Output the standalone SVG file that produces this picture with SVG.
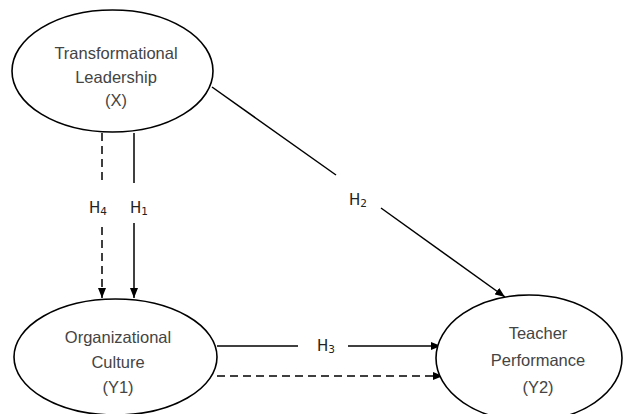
<svg xmlns="http://www.w3.org/2000/svg" width="625" height="414" viewBox="0 0 625 414">
<style>
.node ellipse{fill:#fff;stroke:#000;stroke-width:1.6}
.node text{font-family:"Liberation Sans",Arial,sans-serif;font-size:16.5px;fill:#444;text-anchor:middle}
.edge{stroke:#000;stroke-width:1.5;fill:none}
.dash{stroke-dasharray:8 5}
.lbl{font-family:"DejaVu Sans",sans-serif;font-size:15px;fill:#222;text-anchor:middle}
.lbl tspan.s{font-size:10.5px}
</style>
<defs>
<marker id="ah" viewBox="0 0 10 8" refX="10" refY="4" markerWidth="10" markerHeight="8" markerUnits="userSpaceOnUse" orient="auto">
<path d="M0,0 L10,4 L0,8 Z" fill="#000"/>
</marker>
</defs>
<rect width="625" height="414" fill="#fff"/>
<g id="connectors">
<line class="edge dash" x1="102" y1="133" x2="102" y2="182"/>
<line class="edge dash" x1="102" y1="227" x2="102" y2="298" marker-end="url(#ah)"/>
<line class="edge" x1="134" y1="133" x2="134" y2="183"/>
<line class="edge" x1="134" y1="223" x2="134" y2="298" marker-end="url(#ah)"/>
<line class="edge" x1="212" y1="87" x2="336" y2="175"/>
<line class="edge" x1="381" y1="208" x2="505" y2="297" marker-end="url(#ah)"/>
<line class="edge" x1="217" y1="346" x2="298" y2="346"/>
<line class="edge" x1="348" y1="346" x2="441" y2="346" marker-end="url(#ah)"/>
<line class="edge dash" x1="217" y1="376" x2="443" y2="376" marker-end="url(#ah)"/>
<text class="lbl" x="98" y="213">H<tspan class="s" dy="2">4</tspan></text>
<text class="lbl" x="139" y="213">H<tspan class="s" dy="2">1</tspan></text>
<text class="lbl" x="358" y="205">H<tspan class="s" dy="2">2</tspan></text>
<text class="lbl" x="326" y="351">H<tspan class="s" dy="2">3</tspan></text>
</g>
<g id="node-x" class="node">
<ellipse cx="112.5" cy="71" rx="100.5" ry="61"/>
<text x="116" y="59">Transformational</text>
<text x="116" y="83">Leadership</text>
<text x="116" y="106">(X)</text>
</g>
<g id="node-y1" class="node">
<ellipse cx="115.5" cy="357" rx="101.5" ry="58"/>
<text x="118" y="343">Organizational</text>
<text x="118" y="368">Culture</text>
<text x="118" y="393">(Y1)</text>
</g>
<g id="node-y2" class="node">
<ellipse cx="529" cy="358" rx="93" ry="63"/>
<text x="538" y="339">Teacher</text>
<text x="538" y="366">Performance</text>
<text x="538" y="393">(Y2)</text>
</g>
</svg>
